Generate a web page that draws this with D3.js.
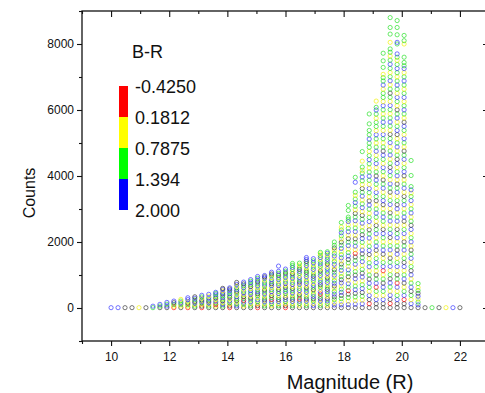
<!DOCTYPE html>
<html>
<head>
<meta charset="utf-8">
<script src="https://cdn.jsdelivr.net/npm/d3@7"></script>
<style>
  body { margin: 0; background: #fff; }
  text { font-family: Arial, "Liberation Sans", sans-serif; fill: #111; }
</style>
</head>
<body>
<svg id="chart" width="485" height="393"></svg>
<script>
// magnitude bins (R)
const magnitudes = [10.00, 10.24, 10.48, 10.72, 10.96, 11.20, 11.44, 11.68, 11.92, 12.16,
  12.40, 12.64, 12.88, 13.12, 13.36, 13.60, 13.84, 14.08, 14.32, 14.56,
  14.80, 15.04, 15.28, 15.52, 15.76, 16.00, 16.24, 16.48, 16.72, 16.96,
  17.20, 17.44, 17.68, 17.92, 18.16, 18.40, 18.64, 18.88, 19.12, 19.36,
  19.60, 19.84, 20.08, 20.32, 20.56, 20.80, 21.04, 21.28, 21.52, 21.76, 22.00];

// counts in each bin, letter = B-R class (r, y, g, b, k = outside range)
const columnPoints = [
  "10b", "10b", "10k", "10k", "10y", "10k",
  "10g 55b",
  "10k 60g 110b",
  "10k 60b 115g 170b",
  "10r 55y 105g 160k 210b",
  "10k 60y 110g 160b 210g 260y",
  "10r 55y 100g 150k 200y 255b 310b",
  "10k 55g 100y 150b 195k 245g 295b 340k",
  "10r 55k 100y 150g 195b 240k 290y 335g 385b",
  "10k 60g 110y 160b 210k 260g 310b 360y 415b",
  "10k 55y 105r 155g 205b 255y 300k 350g 400b 440g 475b",
  "10k 60g 110b 165y 215k 265g 320b 370g 420k 470b 520y 560b 595k",
  "10r 60k 115y 165g 220b 270y 325k 375g 430b 480g 530b 575k 610b",
  "10k 65b 120g 175y 230k 285g 340b 395y 450g 505k 560b 610g 660y 715b 775k",
  "10k 60y 115g 175b 230r 290g 345k 400y 455b 510g 565y 620b 675g 730k 785b",
  "10k 65g 125y 185b 245g 300k 360y 420b 475g 530b 590y 650k 705g 760b 810g 860b",
  "10r 70k 130y 190g 250b 310y 370g 430k 490b 550g 610y 670b 730g 790k 845b 900g 955b",
  "10k 65g 125y 185b 245k 305g 365y 425b 485g 545k 605y 665g 725b 785g 845y 905b 945k 985b",
  "10k 70y 130g 190b 255r 315g 375k 435y 495b 555g 615y 675b 735k 795g 855b 915y 975g 1030k 1085b",
  "10k 70g 130y 195b 255k 320g 380y 440b 505g 565k 625y 690b 750g 810y 870b 930g 995k 1050g 1110b 1270b",
  "10r 70k 130y 195g 255b 320k 380y 445g 505b 565g 630k 690y 750b 815g 875y 935b 1000g 1060k 1120g 1180b",
  "10k 70g 135y 200b 265k 330g 395y 460b 525g 590k 650y 715b 780g 845y 910b 975g 1040k 1100y 1165g 1230b 1290g 1350g",
  "10k 75y 140g 205b 270r 335g 400k 465y 530b 595g 660y 725b 790k 855g 920b 985y 1050g 1110b 1175k 1240g 1300y 1360g",
  "10k 75g 140y 210b 275k 345g 410y 480b 545g 615k 680y 750b 815g 885y 950b 1020g 1085k 1150g 1220y 1285b 1350g 1410k 1470b 1530b",
  "10k 75b 145y 215g 280k 350b 420g 485y 555k 625g 690b 760y 830g 895b 965k 1035g 1100y 1170b 1240g 1305y 1370b 1430g 1495b",
  "10k 75g 145y 215b 285k 355g 425r 495b 565y 635g 705k 775b 845g 915y 985b 1055g 1125k 1195y 1265g 1335b 1405g 1470y 1530b 1590g 1640y 1685g",
  "10k 75y 145g 215b 285k 355y 425g 495b 565k 635g 705y 775b 845g 915k 985y 1055b 1125g 1195b 1265y 1335k 1405g 1475b 1545g 1610y 1660b 1705g",
  "10k 90b 170y 255g 335k 420b 500g 585y 665k 750b 830g 915y 995b 1080g 1160k 1245y 1325b 1410g 1490y 1575b 1655g 1740y 1820k 1900g 2000g",
  "10k 95b 190y 285g 380k 475b 570g 665y 760b 855k 950g 1045y 1140b 1235g 1330k 1425y 1520b 1615g 1710y 1805b 1900g 1995k 2090y 2185g 2280b 2365g 2450y 2590g",
  "10k 105b 210y 315g 420k 525r 630g 735b 840y 945k 1050g 1155b 1260y 1365g 1470k 1575b 1680g 1785y 1890b 1995g 2100k 2205y 2310b 2415g 2520y 2620b 2690g 2754g 2956g 3107g",
  "10k 115b 225y 335g 445k 555b 665g 775y 885b 995k 1105g 1215y 1325b 1435g 1545k 1655r 1765y 1875b 1985g 2095k 2205y 2315b 2425g 2535y 2645b 2755g 2865k 2975y 3085g 3195b 3300g 3410y 3510g 3810b 3960g",
  "10k 125b 240y 355g 470k 590b 705g 820y 940b 1055k 1170g 1290y 1405b 1520g 1640k 1755b 1870y 1990g 2105b 2220k 2340g 2455y 2570b 2690g 2805k 2920y 3040b 3155g 3270y 3390b 3505g 3620k 3740y 3855g 3970b 4090g 4170y 4270g 4450y 4740g",
  "10k 130r 255k 380b 505y 625g 750b 875k 1000g 1125y 1250b 1370g 1495y 1620k 1745b 1870g 1995y 2120b 2245g 2370k 2495y 2620b 2745g 2870y 2995g 3120b 3245k 3370y 3495g 3620b 3745y 3870g 3995b 4120g 4245y 4370g 4495b 4620g 4745y 4870g 4995g 5120b 5250g 5380g 5580g 5880g",
  "10k 130k 255b 380y 505g 630r 750b 875g 1000k 1125y 1250g 1375b 1500g 1625y 1750k 1875b 2000g 2125y 2250b 2375g 2500k 2625y 2750g 2875b 3000g 3125y 3250k 3375g 3500b 3625y 3750g 3875b 4000k 4125g 4250y 4375b 4500g 4625y 4750b 4875g 5000y 5125g 5250b 5375y 5500g 5625g 5750y 5875g 6000b 6080g 6270y",
  "10k 130k 255b 380y 505g 630b 755k 880g 1005y 1130r 1255b 1380g 1505y 1630k 1755b 1880g 2005y 2130g 2255b 2380k 2505y 2630g 2755b 2880g 3005y 3130k 3255b 3380g 3505y 3630b 3755g 3880k 4005y 4130g 4255b 4380y 4505g 4630b 4755k 4880g 5005y 5130g 5255b 5380y 5505g 5630b 5755g 5880y 6005g 6130b 6255y 6380g 6505g 6630y 6755b 6880g 6980g 7080y 7290g 7490g 7720g",
  "10k 135r 260k 385b 510y 635g 760b 885k 1010g 1135y 1260b 1385g 1510k 1635y 1760b 1885g 2010y 2135k 2260b 2385g 2510y 2635b 2760g 2885k 3010y 3135b 3260g 3385y 3510k 3635g 3760b 3885y 4010g 4135b 4260k 4385g 4510y 4635b 4760g 4885y 5010b 5135g 5260k 5385y 5510g 5635b 5760g 5885y 6010g 6135b 6260y 6385g 6510k 6635g 6760y 6885b 7010g 7135y 7260g 7385b 7510g 7635y 7750g 7850g 8050y 8300g 8500g 8800g",
  "10k 130k 255b 380g 505y 630b 755r 880g 1005k 1130y 1255b 1380g 1505y 1630b 1755k 1880g 2005y 2130b 2255g 2380k 2505y 2630b 2755g 2880y 3005b 3130k 3255g 3380y 3505b 3630g 3755k 3880y 4005b 4130g 4255y 4380b 4505k 4630g 4755y 4880b 5005g 5130y 5255k 5380b 5505g 5630y 5755b 5880g 6005k 6130y 6255g 6380b 6505y 6630g 6755b 6880g 7005y 7130g 7255b 7380g 7505y 7600g 7700b 8000g 8050b 8280g 8500g 8710g",
  "10k 130k 255r 380b 505g 630y 755k 880b 1005g 1130y 1255b 1380k 1505g 1630y 1755b 1880g 2005k 2130y 2255b 2380g 2505y 2630k 2755b 2880g 3005y 3130b 3255g 3380k 3505y 3630b 3755g 3880y 4005k 4130b 4255g 4380y 4505b 4630g 4755k 4880y 5005g 5130b 5255y 5380g 5505b 5630k 5755y 5880g 6005b 6130g 6255y 6380b 6505g 6630y 6755g 6880b 7005g 7130y 7255b 7340g 7440g 7600g 8000y 8100g 8260g",
  "10k 130b 255y 380g 505k 630b 755g 880y 1005b 1130k 1255g 1380y 1505b 1630g 1755k 1880y 2005b 2130g 2255y 2380b 2505k 2630g 2755y 2880b 3005g 3130y 3255b 3380g 3480y 3580b 3680g 4015g 4470g",
  "10k 95b 180g 270y 355b 445k 530g 620y 740g",
  "10k", "10g", "10k", "10y", "10b", "10k"
];

// colour scale legend
const legendTitle = "B-R";
const legendLabels = ["-0.4250", "0.1812", "0.7875", "1.394", "2.000"];
const legendColors = ["#ff0000", "#ffff00", "#00ff00", "#0000ff"];
const classColors = { r: "#ff0000", y: "#f2f200", g: "#20e020", b: "#3030ff", k: "#333333" };

const xMajor = [10, 12, 14, 16, 18, 20, 22];
const xMinor = [9, 11, 13, 15, 17, 19, 21, 23];
const yMajor = [0, 2000, 4000, 6000, 8000];
const yMinor = [-1000, 1000, 3000, 5000, 7000, 9000];

const svg = d3.select("#chart");

// plot frame (right edge falls just outside the window)
const plotLeft = 82, plotRight = 489, plotTop = 11, plotBottom = 341;

const x = d3.scaleLinear().domain([9, 23]).range([plotLeft, plotRight]);
const y = d3.scaleLinear().domain([-1000, 9000]).range([plotBottom, plotTop]);

// points
const points = [];
columnPoints.forEach((col, i) => {
  col.split(" ").forEach(tok => {
    points.push({ m: magnitudes[i], c: parseInt(tok), cls: tok.slice(-1) });
  });
});

svg.append("g")
  .selectAll("circle")
  .data(points)
  .enter().append("circle")
  .attr("cx", d => x(d.m))
  .attr("cy", d => y(d.c))
  .attr("r", 2.1)
  .attr("fill", "none")
  .attr("stroke", d => classColors[d.cls])
  .attr("stroke-width", 0.95)
  .attr("stroke-opacity", 0.7);

// axes
function styleAxis(g) {
  g.select(".domain").remove();
  g.selectAll(".tick line").attr("stroke", "#111").attr("stroke-width", 1.1);
  g.selectAll(".tick text").attr("font-size", "12px").attr("fill", "#111")
    .attr("font-family", "Arial, 'Liberation Sans', sans-serif");
}

svg.append("g").attr("transform", `translate(0,${plotBottom})`)
  .call(d3.axisBottom(x).tickValues(xMajor).tickSize(5).tickPadding(6))
  .call(styleAxis);
svg.append("g").attr("transform", `translate(0,${plotBottom})`)
  .call(d3.axisBottom(x).tickValues(xMinor).tickSize(3).tickFormat(""))
  .call(styleAxis);

svg.append("g").attr("transform", `translate(0,${plotTop})`)
  .call(d3.axisTop(x).tickValues(xMajor).tickSize(-6).tickFormat(""))
  .call(styleAxis);
svg.append("g").attr("transform", `translate(0,${plotTop})`)
  .call(d3.axisTop(x).tickValues(xMinor).tickSize(-3).tickFormat(""))
  .call(styleAxis);

svg.append("g").attr("transform", `translate(${plotLeft},0)`)
  .call(d3.axisLeft(y).tickValues(yMajor).tickSize(5).tickPadding(3).tickFormat(d3.format("d")))
  .call(styleAxis);
svg.append("g").attr("transform", `translate(${plotLeft},0)`)
  .call(d3.axisLeft(y).tickValues(yMinor).tickSize(3).tickFormat(""))
  .call(styleAxis);

svg.append("g").attr("transform", `translate(${plotRight},0)`)
  .call(d3.axisRight(y).tickValues(yMajor).tickSize(-6).tickFormat(""))
  .call(styleAxis);
svg.append("g").attr("transform", `translate(${plotRight},0)`)
  .call(d3.axisRight(y).tickValues(yMinor).tickSize(-3).tickFormat(""))
  .call(styleAxis);

svg.append("rect")
  .attr("x", plotLeft).attr("y", plotTop)
  .attr("width", plotRight - plotLeft).attr("height", plotBottom - plotTop)
  .attr("fill", "none").attr("stroke", "#111").attr("stroke-width", 1.3);

// axis titles
svg.append("text")
  .attr("x", 350).attr("y", 389)
  .attr("text-anchor", "middle")
  .attr("font-size", "20px")
  .text("Magnitude (R)");

svg.append("text")
  .attr("transform", "translate(35,193) rotate(-90)")
  .attr("text-anchor", "middle")
  .attr("font-size", "16px")
  .text("Counts");

// colour legend
const lg = svg.append("g");
lg.append("text").attr("x", 132).attr("y", 58).attr("font-size", "18px").text(legendTitle);

const barH = 31;
lg.selectAll("rect")
  .data(legendColors)
  .enter().append("rect")
  .attr("x", 119).attr("y", (d, i) => 86 + i * barH)
  .attr("width", 9).attr("height", barH)
  .attr("fill", d => d);

lg.selectAll("text.lab")
  .data(legendLabels)
  .enter().append("text")
  .attr("class", "lab")
  .attr("x", 135).attr("y", (d, i) => 87 + i * barH)
  .attr("dy", "0.36em")
  .attr("font-size", "18px")
  .text(d => d);
</script>
</body>
</html>
